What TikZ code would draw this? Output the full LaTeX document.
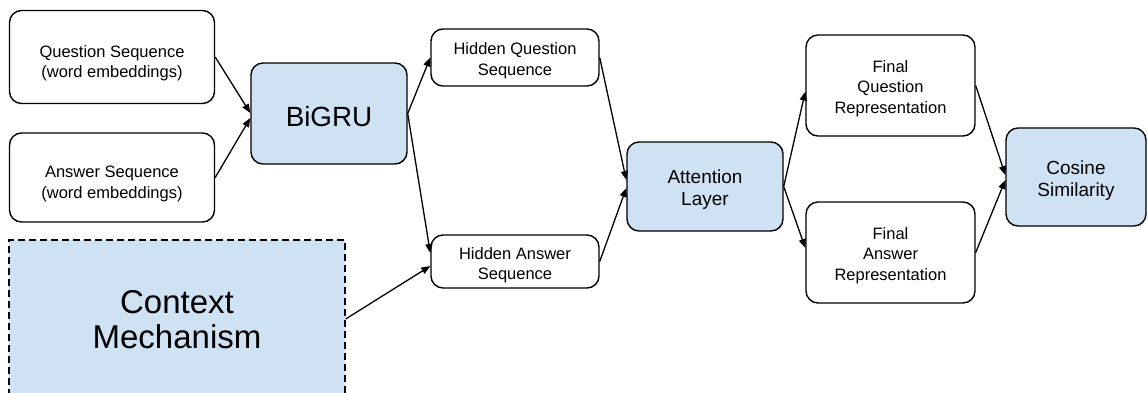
\documentclass[tikz,border=0pt]{standalone}
\usepackage{fontspec}
\setmainfont{Liberation Sans}
\usetikzlibrary{arrows.meta}
\definecolor{lblue}{HTML}{CFE2F3}
\tikzset{
  box/.style={draw=black, line width=1.4pt, rounded corners=12pt, inner sep=0pt},
  bluebox/.style={box, fill=lblue},
  ctxbox/.style={draw=black, line width=1.3pt, dash pattern=on 7pt off 4pt, fill=lblue, inner sep=0pt},
  small/.style={inner sep=0pt, align=center, font=\fontsize{16.5}{20.5}\selectfont},
  mid/.style={inner sep=0pt, align=center, font=\fontsize{19}{22}\selectfont},
  arr/.style={-{Triangle[length=9pt,width=7pt]}, line width=1.3pt}
}
\begin{document}
\begin{tikzpicture}[x=1pt,y=-1pt]
\useasboundingbox (0,0) rectangle (1148,392);
\node[box, minimum width=205pt, minimum height=93pt] (qs) at (112,57) {};
\node[box, minimum width=205pt, minimum height=89pt] (as) at (112,177.5) {};
\node[bluebox, minimum width=156pt, minimum height=101pt] (bigru) at (329,113.5) {};
\node[ctxbox, minimum width=336pt, minimum height=158pt] (ctx) at (177,319) {};
\node[box, minimum width=168pt, minimum height=57pt] (hqs) at (515,57.5) {};
\node[box, minimum width=168pt, minimum height=53pt] (has) at (515,261.5) {};
\node[bluebox, minimum width=156pt, minimum height=89pt] (att) at (705,186.5) {};
\node[box, minimum width=169pt, minimum height=101pt] (fqr) at (890.5,85.5) {};
\node[box, minimum width=169pt, minimum height=101pt] (far) at (890.5,252.5) {};
\node[bluebox, minimum width=140pt, minimum height=98pt] (cos) at (1076,177) {};
\node[small] (qst) at ([yshift=-6pt]qs.center) {Question Sequence\\(word embeddings)};
\node[small] (ast) at ([yshift=-6.5pt]as.center) {Answer Sequence\\(word embeddings)};
\node[inner sep=0pt, font=\fontsize{27.8}{30}\selectfont] (bigrut) at ([yshift=-3pt]bigru.center) {BiGRU};
\node[inner sep=0pt, align=center, font=\fontsize{33}{35}\selectfont] (ctxt) at ([yshift=-1pt]ctx.center) {Context\\Mechanism};
\node[small] (hqst) at ([yshift=-3pt]hqs.center) {Hidden Question\\Sequence};
\node[small] (hast) at ([yshift=-3.5pt]has.center) {Hidden Answer\\Sequence};
\node[mid] (attt) at ([yshift=-3pt]att.center) {Attention\\Layer};
\node[small] (fqrt) at ([yshift=-3pt]fqr.center) {Final\\Question\\Representation};
\node[small] (fart) at ([yshift=-3pt]far.center) {Final\\Answer\\Representation};
\node[mid] (cost) at ([yshift=-3.5pt]cos.center) {Cosine\\Similarity};
\draw[arr] (qs.east) -- ([yshift=0.5pt]bigru.west);
\draw[arr] (as.east) -- ([yshift=-4.5pt]bigru.west);
\draw[arr] (bigru.east) -- (hqs.west);
\draw[arr] (bigru.east) -- ([yshift=8.5pt]has.west);
\draw[arr] (ctx.east) -- ([yshift=-4.5pt]has.west);
\draw[arr] (hqs.east) -- ([yshift=6.5pt]att.west);
\draw[arr] (has.east) -- ([yshift=-1.5pt]att.west);
\draw[arr] (att.east) -- ([yshift=-6pt]fqr.west);
\draw[arr] (att.east) -- ([yshift=4.5pt]far.west);
\draw[arr] (fqr.east) -- ([yshift=2pt]cos.west);
\draw[arr] (far.east) -- ([yshift=-3pt]cos.west);
\end{tikzpicture}
\end{document}
